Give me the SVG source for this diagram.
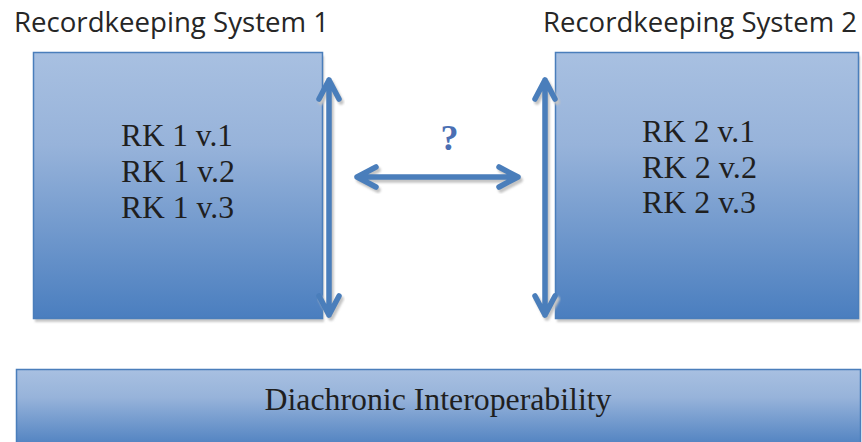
<svg xmlns="http://www.w3.org/2000/svg" width="862" height="442" viewBox="0 0 862 442">
  <defs>
    <linearGradient id="boxFill" x1="0" y1="0" x2="0" y2="1">
      <stop offset="0" stop-color="#a8c0e1"/>
      <stop offset="0.35" stop-color="#97b3da"/>
      <stop offset="1" stop-color="#4a7ebf"/>
    </linearGradient>
    <filter id="soft" x="-20%" y="-20%" width="140%" height="140%">
      <feGaussianBlur stdDeviation="1"/>
    </filter>
  </defs>
  <style>
    .box { fill: url(#boxFill); stroke: #4a7ebb; stroke-width: 1.5; }
    .boxShadow { fill: #c8c8c8; filter: url(#soft); }
    .title { font-family: "Open Sans", "Liberation Sans", sans-serif; font-size: 27px; fill: #262626; }
    .rk { font-family: "Liberation Serif", "Times New Roman", serif; font-size: 31px; fill: #1f1f1f; text-anchor: start; }
    .arrow { fill: none; stroke: #4a7ebb; stroke-width: 5.5; stroke-linecap: round; stroke-linejoin: round; }
    .arrowShadow { fill: none; stroke: #c4c4c4; stroke-width: 5.5; stroke-linecap: round; stroke-linejoin: round; filter: url(#soft); }
  </style>

  <!-- headings -->
  <text class="title" x="14" y="32" textLength="315" lengthAdjust="spacingAndGlyphs">Recordkeeping System 1</text>
  <text class="title" x="543" y="32" textLength="314" lengthAdjust="spacingAndGlyphs">Recordkeeping System 2</text>

  <!-- system 1 -->
  <g id="rk-system-1">
    <rect class="boxShadow" x="35" y="56" width="289" height="266"/>
    <rect class="box" x="33.5" y="52.5" width="289" height="266"/>
    <text class="rk" x="121" y="146" textLength="112" lengthAdjust="spacingAndGlyphs">RK 1 v.1</text>
    <text class="rk" x="121" y="182" textLength="114" lengthAdjust="spacingAndGlyphs">RK 1 v.2</text>
    <text class="rk" x="121" y="218" textLength="113" lengthAdjust="spacingAndGlyphs">RK 1 v.3</text>
  </g>

  <!-- system 2 -->
  <g id="rk-system-2">
    <rect class="boxShadow" x="557" y="56" width="303" height="266"/>
    <rect class="box" x="555.5" y="52.5" width="303" height="266"/>
    <text class="rk" x="642" y="142" textLength="113" lengthAdjust="spacingAndGlyphs">RK 2 v.1</text>
    <text class="rk" x="642" y="178" textLength="115" lengthAdjust="spacingAndGlyphs">RK 2 v.2</text>
    <text class="rk" x="642" y="213" textLength="114" lengthAdjust="spacingAndGlyphs">RK 2 v.3</text>
  </g>

  <!-- base band -->
  <g id="diachronic">
    <rect class="box" x="16.5" y="369.5" width="844" height="80"/>
    <text x="438" y="410" text-anchor="middle" font-family="Liberation Serif, Times New Roman, serif" font-size="32" fill="#1f1f1f" textLength="347" lengthAdjust="spacingAndGlyphs">Diachronic Interoperability</text>
  </g>

  <!-- question mark -->
  <g id="question">
    <text x="449.5" y="150" text-anchor="middle" font-family="Liberation Serif, Times New Roman, serif" font-size="36" font-weight="bold" fill="#4a6fb3">?</text>
  </g>

  <!-- connectors -->
  <g id="connectors">
    <g transform="translate(2,3)">
      <path class="arrowShadow" d="M329 80 V315 M319 99 L329 80 L339 99 M319 296 L329 315 L339 296"/>
      <path class="arrowShadow" d="M545 80 V315 M535 99 L545 80 L555 99 M535 296 L545 315 L555 296"/>
      <path class="arrowShadow" d="M357 177 H518 M376 167 L357 177 L376 187 M499 167 L518 177 L499 187"/>
    </g>
    <path class="arrow" d="M329 80 V315 M319 99 L329 80 L339 99 M319 296 L329 315 L339 296"/>
    <path class="arrow" d="M545 80 V315 M535 99 L545 80 L555 99 M535 296 L545 315 L555 296"/>
    <path class="arrow" d="M357 177 H518 M376 167 L357 177 L376 187 M499 167 L518 177 L499 187"/>
  </g>
</svg>
